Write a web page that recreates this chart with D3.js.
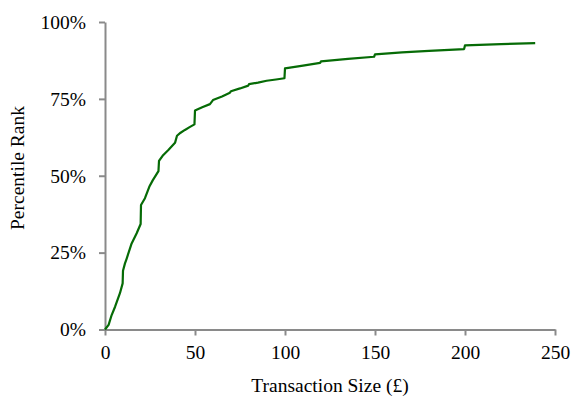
<!DOCTYPE html>
<html>
<head>
<meta charset="utf-8">
<script src="https://cdn.jsdelivr.net/npm/d3@7"></script>
<style>
  html, body { margin: 0; padding: 0; background: #fff; }
  svg { display: block; }
</style>
</head>
<body>
<svg id="chart" width="572" height="401"></svg>
<script>
// Transaction size (£) and cumulative percentile rank (%)
const sizes = [0, 2, 3.7, 5.6, 8.3, 9.8, 10, 11.1, 12, 14.8, 17.6, 19.8, 20, 22.2, 24.6, 26.5, 29.7, 30, 32, 35.2, 38.9, 40, 42, 44.4, 47, 49.7, 50, 54, 58.3, 60, 65, 69.4, 70, 75, 79.6, 80, 85, 89.8, 95, 99.7, 100, 110, 119.5, 120, 135, 149.5, 150, 165, 180, 199.5, 200, 220, 239];
const ranks = [0, 1.5, 4.7, 7.4, 11.8, 15, 19.1, 21.5, 23, 28, 31.3, 34.3, 40.5, 42.7, 46.4, 48.5, 51.5, 54.8, 56.5, 58.4, 60.7, 63, 64, 64.9, 65.8, 66.7, 71.2, 72.3, 73.3, 74.6, 75.8, 77, 77.5, 78.4, 79.3, 79.8, 80.3, 80.9, 81.3, 81.7, 84.9, 85.8, 86.7, 87.2, 88.0, 88.7, 89.5, 90.1, 90.6, 91.2, 92.4, 92.8, 93.1];
const xTicks = [0, 50, 100, 150, 200, 250];
const yTicks = [0, 25, 50, 75, 100];
const xTitle = "Transaction Size (£)";
const yTitle = "Percentile Rank";

const data = sizes.map((s, i) => ({ x: s, y: ranks[i] }));

const svg = d3.select("#chart");
const mLeft = 105, mRight = 555, mTop = 22, mBottom = 329.5;
const axisColor = "#8a8a8a";
const font = "'Liberation Serif', 'Times New Roman', serif";

const x = d3.scaleLinear().domain([0, 250]).range([mLeft, mRight]);
const y = d3.scaleLinear().domain([0, 100]).range([mBottom, mTop]);

// X axis
const gx = svg.append("g").attr("transform", `translate(0,${mBottom})`)
  .call(d3.axisBottom(x).tickValues(xTicks).tickSize(6).tickSizeOuter(0).tickPadding(10).tickFormat(d3.format("d")));
gx.select(".domain").attr("stroke", axisColor).attr("stroke-width", 2);
gx.selectAll(".tick line").attr("stroke", axisColor).attr("stroke-width", 2);
gx.selectAll(".tick text").attr("fill", "#000").style("font-family", font).style("font-size", "19.5px");

// Y axis
const gy = svg.append("g").attr("transform", `translate(${mLeft},0)`)
  .call(d3.axisLeft(y).tickValues(yTicks).tickSize(6).tickSizeOuter(0).tickPadding(13).tickFormat(d => d + "%"));
gy.select(".domain").attr("stroke", axisColor).attr("stroke-width", 2);
gy.selectAll(".tick line").attr("stroke", axisColor).attr("stroke-width", 2);
gy.selectAll(".tick text").attr("fill", "#000").style("font-family", font).style("font-size", "19.5px");

// Line
svg.append("path")
  .datum(data)
  .attr("fill", "none")
  .attr("stroke", "#066b06")
  .attr("stroke-width", 2.2)
  .attr("stroke-linejoin", "round")
  .attr("d", d3.line().x(d => x(d.x)).y(d => y(d.y)));

// Titles
svg.append("text")
  .attr("x", (mLeft + mRight) / 2).attr("y", 392)
  .attr("text-anchor", "middle")
  .style("font-family", font).style("font-size", "19.5px")
  .text(xTitle);

svg.append("text")
  .attr("transform", `translate(24,168) rotate(-90)`)
  .attr("text-anchor", "middle")
  .style("font-family", font).style("font-size", "19.5px")
  .text(yTitle);
</script>
</body>
</html>
